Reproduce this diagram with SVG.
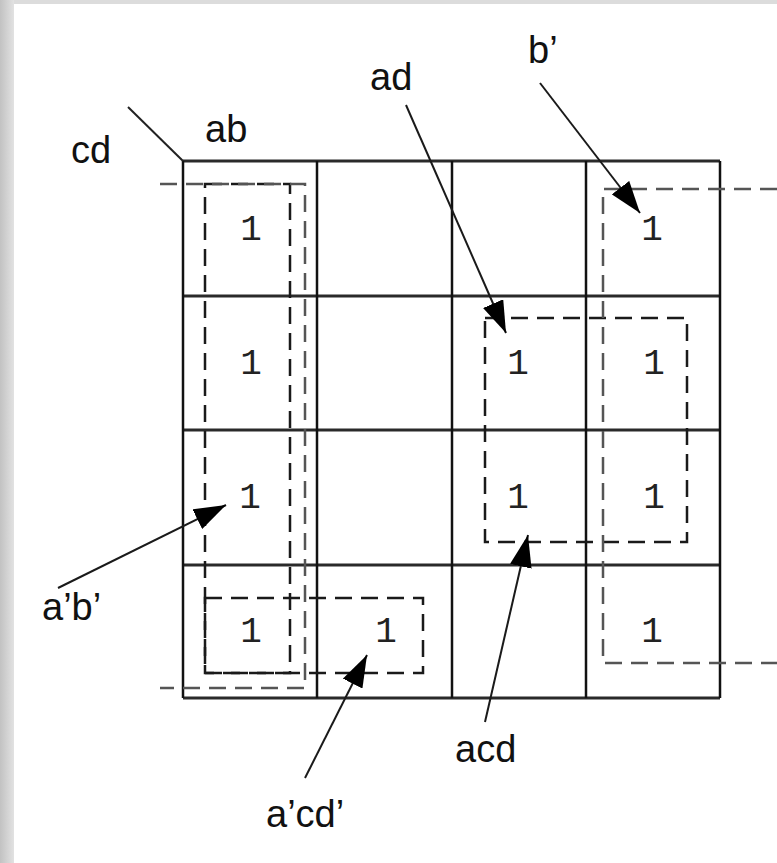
<svg xmlns="http://www.w3.org/2000/svg" width="777" height="863" viewBox="0 0 777 863">
  <style>
    .lbl { font-family: "Liberation Sans", Arial, sans-serif; font-size: 38px; fill: #111; }
    .one { font-family: "Liberation Mono", "Courier New", monospace; font-size: 36px; fill: #222; text-anchor: middle; }
    .hl { stroke: #2a2a2a; stroke-width: 3; fill: none; }
    .vl { stroke: #111; stroke-width: 2.5; fill: none; }
    .loop { stroke: #1a1a1a; stroke-width: 2.5; fill: none; stroke-dasharray: 17 9; }
    .loop2 { stroke: #555; stroke-width: 2.5; fill: none; stroke-dasharray: 17 9; }
    .arr { stroke: #1a1a1a; stroke-width: 2; fill: none; marker-end: url(#ah); }
  </style>
  <defs>
    <linearGradient id="edge" x1="0" y1="0" x2="1" y2="0">
      <stop offset="0" stop-color="#c2c2c2"/>
      <stop offset="1" stop-color="#e2e2e2"/>
    </linearGradient>
    <marker id="ah" markerUnits="userSpaceOnUse" markerWidth="32" markerHeight="22" viewBox="0 0 32 22" refX="32" refY="11" orient="auto">
      <path d="M0,0 L32,11 L0,22 z" fill="#000"/>
    </marker>
  </defs>

  <rect x="0" y="0" width="777" height="863" fill="#fff"/>
  <rect x="0" y="0" width="777" height="4" fill="#dcdcdc"/>
  <rect x="0" y="0" width="14" height="863" fill="url(#edge)"/>

  <g id="grid">
    <line class="hl" x1="183" y1="161" x2="720" y2="161"/>
    <line class="hl" x1="183" y1="296" x2="720" y2="296"/>
    <line class="hl" x1="183" y1="430" x2="720" y2="430"/>
    <line class="hl" x1="183" y1="565" x2="720" y2="565"/>
    <line class="hl" x1="183" y1="698" x2="720" y2="698"/>
    <line class="vl" x1="183" y1="161" x2="183" y2="698"/>
    <line class="vl" x1="317" y1="161" x2="317" y2="698"/>
    <line class="vl" x1="452" y1="161" x2="452" y2="698"/>
    <line class="vl" x1="586" y1="161" x2="586" y2="698"/>
    <line class="vl" x1="720" y1="161" x2="720" y2="698"/>
    <line stroke="#222" stroke-width="2" x1="128" y1="107" x2="183" y2="161"/>
  </g>

  <g id="cells">
    <text class="one" x="251" y="240">1</text>
    <text class="one" x="251" y="374">1</text>
    <text class="one" x="250" y="508">1</text>
    <text class="one" x="251" y="642">1</text>
    <text class="one" x="386" y="642">1</text>
    <text class="one" x="518" y="374">1</text>
    <text class="one" x="518" y="508">1</text>
    <text class="one" x="652" y="240">1</text>
    <text class="one" x="654" y="374">1</text>
    <text class="one" x="654" y="508">1</text>
    <text class="one" x="652" y="642">1</text>
  </g>

  <g id="loop-a-b">
    <rect class="loop" x="205" y="184" width="85" height="489"/>
  </g>
  <g id="loop-a-cd">
    <rect class="loop" x="205" y="598" width="218" height="75"/>
  </g>
  <g id="loop-ad">
    <rect class="loop" x="485" y="318" width="202" height="224"/>
  </g>
  <g id="loop-b-left">
    <path class="loop2" d="M160,184 H305 V688 H160"/>
  </g>
  <g id="loop-b-right">
    <path class="loop2" d="M777,189 H603 V663 H777"/>
  </g>

  <g id="label-cd"><text class="lbl" x="71" y="163">cd</text></g>
  <g id="label-ab"><text class="lbl" x="205" y="142">ab</text></g>
  <g id="label-ad"><text class="lbl" x="370" y="90">ad</text></g>
  <g id="label-b"><text class="lbl" x="528" y="63">b’</text></g>
  <g id="label-ab2"><text class="lbl" x="42" y="620">a’b’</text></g>
  <g id="label-acd"><text class="lbl" x="455" y="762">acd</text></g>
  <g id="label-acd2"><text class="lbl" x="266" y="827">a’cd’</text></g>

  <g id="connectors">
    <line class="arr" x1="406" y1="105" x2="506" y2="333"/>
    <line class="arr" x1="540" y1="83" x2="640" y2="213"/>
    <line class="arr" x1="58" y1="588" x2="226" y2="505"/>
    <line class="arr" x1="305" y1="778" x2="367" y2="655"/>
    <line class="arr" x1="485" y1="722" x2="528" y2="535"/>
  </g>
</svg>
